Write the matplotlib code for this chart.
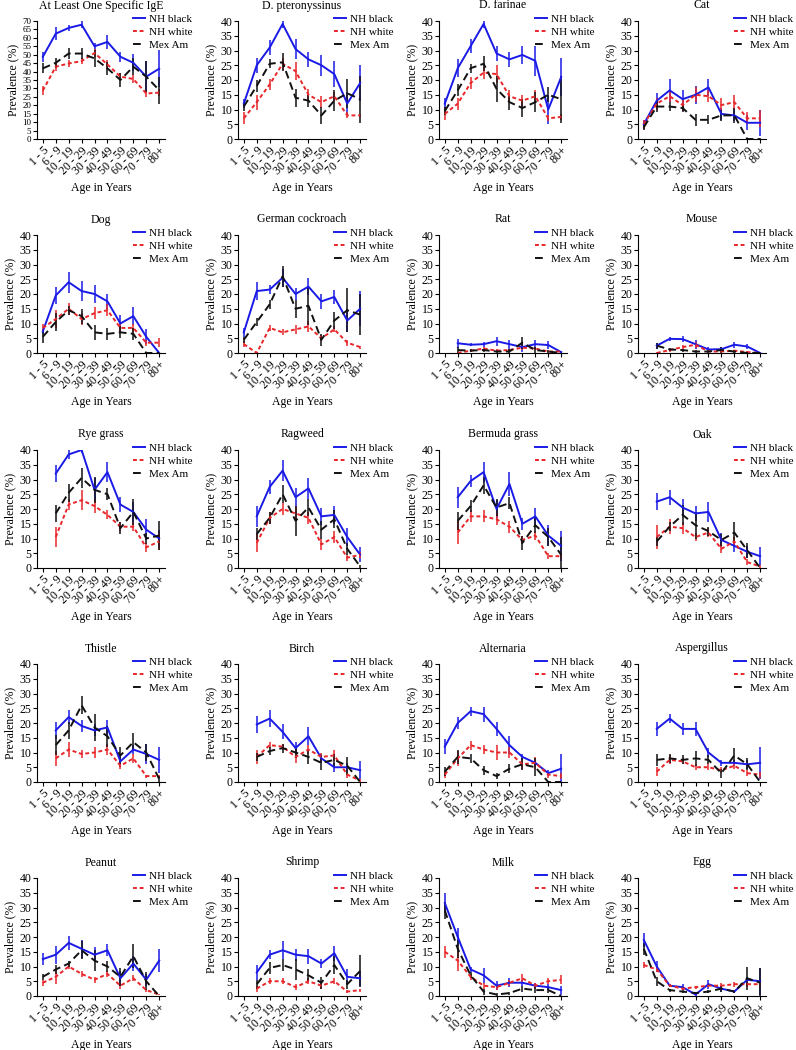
import numpy as np
import matplotlib
matplotlib.use("Agg")
import matplotlib.pyplot as plt

plt.rcParams["font.family"] = ["Liberation Serif", "DejaVu Serif"]

nan = np.nan

AGE_GROUPS = ["1 - 5", "6 - 9", "10 - 19", "20 - 29", "30 - 39",
              "40 - 49", "50 - 59", "60 - 69", "70 - 79", "80+"]

PANEL_TITLES = [
    "At Least One Specific IgE", "D. pteronyssinus", "D. farinae", "Cat",
    "Dog", "German cockroach", "Rat", "Mouse",
    "Rye grass", "Ragweed", "Bermuda grass", "Oak",
    "Thistle", "Birch", "Alternaria", "Aspergillus",
    "Peanut", "Shrimp", "Milk", "Egg",
]

SERIES_LABELS = ["NH black", "NH white", "Mex Am"]

# prevalence (%) by age group, one row per panel
NH_BLACK = [
    [48.8, 62.5, 65.9, 67.8, 55.0, 57.6, 48.8, 45.2, 37.0, 41.7],
    [12, 25, 31, 39, 30.5, 27, 25, 22, 12, 19],
    [12, 24, 31.5, 39, 29, 27, 28.5, 26.5, 10, 21],
    [5, 13, 16.5, 13.5, 15, 17.5, 8.5, 8, 5.5, 5.5],
    [7.3, 19.5, 24, 21, 20, 17.5, 10, 12.5, 5.5, 0],
    [7, 21, 21.5, 25.5, 20, 22.5, 17.5, 19, 11, 15],
    [nan, 3.3, 2.8, 3, 4, 3, 2, 3, 2.7, 0.3],
    [nan, 2.5, 4.8, 4.7, 3, 1.2, 1.3, 2.8, 2.2, 0],
    [nan, 32, 38.5, 40, 26.5, 32.5, 21.5, 19, 13, 10],
    [nan, 17.5, 27.5, 33, 24, 27, 17.5, 18, 10.5, 4.5],
    [nan, 24, 29.5, 32.5, 20, 28.5, 15, 17.5, 11, 7.5],
    [nan, 22.5, 24, 20.5, 18.5, 19, 9.5, 7.5, 5.5, 4],
    [nan, 17.5, 22, 19, 17.5, 18.5, 7, 11, 9.5, 7.5],
    [nan, 19.5, 21.5, 17, 11.5, 15.5, 8, 5, 5, 4],
    [12, 20, 24, 23, 18, 12.5, 8.5, 6.5, 3, 4.5],
    [nan, 18, 21.5, 18, 18, 10, 6.5, 6.5, 6, 6.5],
    [12.5, 14, 18, 16, 14, 15.5, 6, 11, 5.5, 12],
    [nan, 8, 14, 15.5, 14, 13.5, 11, 14.5, 6.5, 6],
    [31.5, 20, 9, 7, 3.5, 4.5, 4.5, 3.5, 3, 2],
    [19, 10, 3.5, 3, 0.5, 4, 2.5, 1.5, 5.5, 5],
]

NH_BLACK_ERR = [
    [3, 4, 2, 2, 2, 4, 3, 5, 9, 11],
    [1.5, 2.5, 2.5, 1.5, 3.5, 2.5, 3.5, 4.5, 4, 6],
    [2, 3, 2.5, 1.5, 2.5, 2.5, 3, 5, 5, 6.5],
    [1.5, 2.5, 4, 3, 3, 3, 2, 2, 2.5, 4.5],
    [1, 3, 3.5, 3.5, 3, 2.5, 3, 3, 2.5, 0],
    [1.5, 3, 1.5, 3, 2, 3, 2.5, 2.5, 4, 6],
    [nan, 1.5, 0.5, 0.8, 1.5, 1.5, 1.5, 1.5, 1.5, 0.3],
    [nan, 1, 0.7, 1, 1.5, 0.8, 0.8, 1, 1, 0],
    [nan, 3, 1.5, 1, 4, 3.5, 2.5, 3.5, 3.5, 3],
    [nan, 3.5, 2.5, 3.5, 3, 3.5, 3, 3, 3, 2.5],
    [nan, 3.5, 2, 3.5, 3, 4, 2, 3, 3.5, 5],
    [nan, 3, 2.5, 3, 2.5, 3.5, 2.5, 2, 2, 3],
    [nan, 3, 2.5, 2, 2, 2.5, 2, 1.5, 3.5, 4.5],
    [nan, 3, 3, 2.5, 2, 3, 1.5, 1.5, 1.5, 3],
    [2.5, 2, 1.5, 2.5, 2.5, 3, 1, 1, 1, 5],
    [nan, 2.5, 1.5, 2, 2.5, 1.5, 1, 1, 1.5, 5.5],
    [2, 3, 2.5, 3, 2.5, 2, 2.5, 2.5, 2, 4],
    [nan, 2.5, 1.5, 3, 2, 2.5, 1.5, 2.5, 2.5, 2.5],
    [3.5, 3, 1, 2.5, 1.5, 1.5, 1, 0.8, 1, 1.5],
    [2.5, 2, 0.5, 1, 0.5, 1.5, 1, 0.5, 1, 4.5],
]

NH_WHITE = [
    [28.7, 42.9, 44.8, 46.2, 51.0, 44.2, 37.0, 35.6, 27.0, 27.5],
    [7, 12.5, 18.5, 25.5, 23, 15, 12.5, 14.5, 8, 8],
    [8.5, 12, 19, 22.5, 22, 14.5, 13, 14.5, 7, 7.5],
    [5, 12, 14.5, 11.5, 15, 14.5, 11.5, 12.5, 7, 7],
    [8.5, 11.5, 15, 11.5, 13.5, 14.5, 8.5, 8.5, 3.5, 3.5],
    [3, 0, 8.5, 7, 8, 9, 5, 8, 3.5, 2],
    [nan, 0, 0.8, 1.5, 0.8, 1, 1.8, 1.5, 0.5, 0.5],
    [nan, 0, 1, 2, 2.8, 0.5, 0.5, 0.8, 0.3, 0],
    [nan, 10.5, 21.5, 23, 21, 18, 14, 14, 7, 9],
    [nan, 8.5, 17, 20, 18.5, 17, 8, 10.5, 3.5, 4.5],
    [nan, 12, 17.5, 17.5, 16.5, 14, 9.5, 11, 4, 4],
    [nan, 10.5, 14, 13.5, 10.5, 12, 6.5, 9, 2, 0.5],
    [nan, 8, 11, 9.5, 10, 11, 5.5, 8, 2, 2],
    [nan, 8.5, 12.5, 12, 8.5, 11, 8.5, 9, 2.5, 0.5],
    [2.5, 8, 12.5, 11, 10, 10, 6, 6.5, 2.5, 2],
    [nan, 3.5, 7.5, 7, 5, 5, 4, 5.5, 3, 2.5],
    [4.5, 6.5, 10, 7.5, 5.5, 7.5, 3.5, 6, 2, 0.5],
    [nan, 2.5, 5, 5, 3, 5, 3.5, 5, 1.5, 2],
    [15, 12, 6.5, 3.5, 3, 4.5, 6, 3.5, 5, 5.5],
    [10.5, 9, 3.5, 2.5, 3, 3.5, 3.5, 4, 4, 4],
]

NH_WHITE_ERR = [
    [2.5, 2.5, 2, 2, 2.5, 2.5, 2, 2.5, 2, 2],
    [2, 2.5, 2, 2, 3, 2, 2, 1.5, 1, 0.5],
    [2, 2, 2, 2, 3, 2, 2, 2, 1, 1],
    [1.5, 2, 2, 2, 2.5, 2, 2.5, 2.5, 2, 3],
    [1.5, 3, 2, 2, 2, 2, 1.5, 1.5, 1, 1.5],
    [1, 0.3, 1, 1, 1.5, 2, 1, 1, 1, 0.5],
    [nan, 0.3, 0.5, 0.5, 0.5, 0.5, 0.8, 0.5, 0.3, 0.3],
    [nan, 0.3, 0.5, 0.8, 1, 0.3, 0.3, 0.3, 0.3, 0],
    [nan, 3.5, 2, 3.5, 2.5, 1.5, 1.5, 1.5, 1.5, 3],
    [nan, 3, 2, 2, 2.5, 2, 2, 2, 1, 1],
    [nan, 4, 2, 2, 2, 2, 1.5, 1.5, 1, 1],
    [nan, 4, 2.5, 2, 1.5, 1.5, 1.5, 1.5, 1, 0.5],
    [nan, 2.5, 2.5, 1.5, 2, 2, 1, 1.5, 0.5, 0.5],
    [nan, 2.5, 1, 1, 2, 1.5, 1.5, 2, 1, 0.5],
    [1, 2.5, 1.5, 1.5, 2.5, 2, 1.5, 2, 1, 1],
    [nan, 1.5, 1.5, 1, 1, 1, 1, 1, 1, 1],
    [1, 2.5, 1, 1, 1, 1, 1, 1, 0.5, 0.3],
    [nan, 1, 1, 1, 1, 1, 1, 1, 0.5, 0.5],
    [2, 3.5, 1, 1, 0.8, 1, 1.5, 1, 1, 1.5],
    [1, 1, 0.5, 0.5, 0.5, 0.5, 0.8, 0.8, 1, 1],
]

MEX_AM = [
    [41.9, 45.2, 50.7, 50.7, 47.8, 41.9, 35.0, 42.9, 37.0, 29.0],
    [11, 18, 25.5, 26, 14, 13, 8, 13, 15.5, 13.5],
    [9.5, 16.5, 24, 25.5, 17, 12.5, 10.5, 12.5, 15, 13.5],
    [4, 11, 11, 10.5, 6.5, 6.5, 8, 8, 0, 0],
    [5.5, 10.5, 14.5, 12.5, 7, 6.5, 7, 6.5, 0, 0],
    [4.5, 10.5, 16.5, 26, 15, 16, 4.5, 11, 14.5, 13],
    [nan, 1, 0.8, 1, 0.5, 0.5, 3.5, 1, 0.5, 0],
    [nan, 2.5, 1.2, 1, 0.5, 0.5, 1, 0.5, 0, 0],
    [nan, 18.5, 25.5, 30.5, 26.5, 25, 13.5, 19, 10, 11],
    [nan, 11.5, 17, 25, 16, 20.5, 13, 16.5, 6.5, 0.5],
    [nan, 16, 21, 28, 20.5, 22, 8.5, 14.5, 10.5, 4.5],
    [nan, 9, 14, 18, 14.5, 12.5, 9.5, 12, 6, 0],
    [nan, 12.5, 17.5, 26, 18.5, 15.5, 9, 13.5, 10, 1],
    [nan, 8.5, 10.5, 11.5, 10, 8.5, 6.5, 7.5, 5.5, 0],
    [3.5, 8.5, 8, 4, 2, 4.5, 6, 5, 0, 0],
    [nan, 7.5, 8, 7.5, 8, 7.5, 3, 9, 6, 0],
    [6.5, 9, 11, 15.5, 12, 10, 6.5, 13.5, 5, 0],
    [nan, 4, 9.5, 10.5, 9, 7, 4.5, 10.5, 4, 8.5],
    [29, 16, 7, 1.5, 0.5, 1, 2.5, 2, 2, 0],
    [16, 5, 2, 1.5, 1, 1.5, 2.5, 1.5, 6, 4.5],
]

MEX_AM_ERR = [
    [3, 3, 3, 3, 5, 4, 4, 5, 9, 8],
    [1.5, 2, 1.5, 3, 3, 2, 3, 3.5, 5, 8],
    [1.5, 2, 1.5, 2.5, 4.5, 2.5, 3, 3.5, 2.5, 8],
    [1, 2, 1.5, 1.5, 2, 1.5, 2, 2.5, 0.3, 0.3],
    [2, 3, 1.5, 2.5, 2.5, 2, 2, 2, 0, 0],
    [1, 1.5, 1.5, 3.5, 3, 6.5, 2, 3, 7.5, 7],
    [nan, 1, 0.5, 0.5, 0.5, 0.8, 2, 1, 0.5, 0],
    [nan, 1, 0.5, 0.5, 0.5, 0.5, 1, 0.5, 0, 0],
    [nan, 3, 3, 3.5, 4.5, 2, 2, 4.5, 2, 5],
    [nan, 2, 2, 3, 5, 3, 3, 3, 2, 0.5],
    [nan, 3, 2, 3, 3, 2, 2.5, 2.5, 3, 6],
    [nan, 1.5, 1.5, 3.5, 4.5, 1.5, 2, 3.5, 2.5, 0],
    [nan, 3.5, 3, 3, 4.5, 3.5, 3, 3, 3, 1],
    [nan, 1.5, 1.5, 1.5, 2, 2.5, 2.5, 2, 3, 0],
    [1.5, 2.5, 1.5, 1.5, 1, 1.5, 2, 3, 0, 0],
    [nan, 2, 1.5, 1.5, 2.5, 1.5, 1.5, 2.5, 2, 0],
    [1, 1.5, 1, 3, 3.5, 2, 3, 4, 3, 0],
    [nan, 1.5, 2, 2, 3.5, 2, 2, 3, 1.5, 5.5],
    [3, 3, 1, 1, 0.5, 0.5, 1, 1, 1, 0],
    [2, 1.5, 0.5, 0.5, 0.5, 0.5, 1, 0.5, 4, 5],
]

SERIES_STYLES = [
    {"color": "#1a1ae6", "linestyle": "-"},
    {"color": "#e8262a", "linestyle": (0, (2, 1.4))},
    {"color": "#111111", "linestyle": (0, (4, 2.2))},
]

FIG_W, FIG_H = 796, 1050
COL_LEFT = [37, 238, 439, 638]
ROW_TOP = [21, 235, 450, 664, 878]
AX_W, AX_H = 128, 118
FS = 8.5
LEGEND_FS = 8


def draw_panel(ax, idx):
    x = np.arange(len(AGE_GROUPS))
    series = [
        (NH_BLACK, NH_BLACK_ERR),
        (NH_WHITE, NH_WHITE_ERR),
        (MEX_AM, MEX_AM_ERR),
    ]
    for (vals, errs), label, style in zip(series, SERIES_LABELS, SERIES_STYLES):
        y = np.array(vals[idx], dtype=float)
        e = np.array(errs[idx], dtype=float)
        ax.errorbar(
            x, y, yerr=e,
            color=style["color"],
            linestyle=style["linestyle"],
            linewidth=1.4,
            elinewidth=1.1,
            capsize=0,
            label=label,
        )

    ymax = 70 if idx == 0 else 40
    ax.set_ylim(0, ymax)
    ax.set_yticks(np.arange(0, ymax + 1, 5))
    ax.set_xlim(-0.45, len(AGE_GROUPS) - 0.55)
    ax.set_xticks(x)
    ax.set_xticklabels(AGE_GROUPS, rotation=45, ha="right",
                       rotation_mode="anchor", fontsize=FS)
    ax.tick_params(axis="y", labelsize=6.5 if idx == 0 else FS,
                   length=3, pad=1)
    ax.tick_params(axis="x", length=3, pad=1)

    ax.spines["top"].set_visible(False)
    ax.spines["right"].set_visible(False)

    ax.set_title(PANEL_TITLES[idx], fontsize=FS, pad=9)
    ax.set_ylabel("Prevalence (%)", fontsize=FS, labelpad=2)
    ax.set_xlabel("Age in Years", fontsize=FS, labelpad=4)

    handles, labels = ax.get_legend_handles_labels()
    handles = [h[0] for h in handles]
    ax.legend(
        handles, labels,
        loc="upper left",
        bbox_to_anchor=(0.75, 1.06),
        frameon=False,
        fontsize=LEGEND_FS,
        handlelength=1.1,
        handletextpad=0.3,
        labelspacing=0.3,
        borderpad=0,
        borderaxespad=0,
    )


def main():
    fig = plt.figure(figsize=(FIG_W / 100, FIG_H / 100), dpi=100)

    for idx in range(len(PANEL_TITLES)):
        row, col = divmod(idx, 4)
        left = COL_LEFT[col] / FIG_W
        bottom = 1 - (ROW_TOP[row] + AX_H) / FIG_H
        ax = fig.add_axes([left, bottom, AX_W / FIG_W, AX_H / FIG_H])
        draw_panel(ax, idx)

    fig.savefig("out.png", dpi=100)
    plt.close(fig)


if __name__ == "__main__":
    main()
